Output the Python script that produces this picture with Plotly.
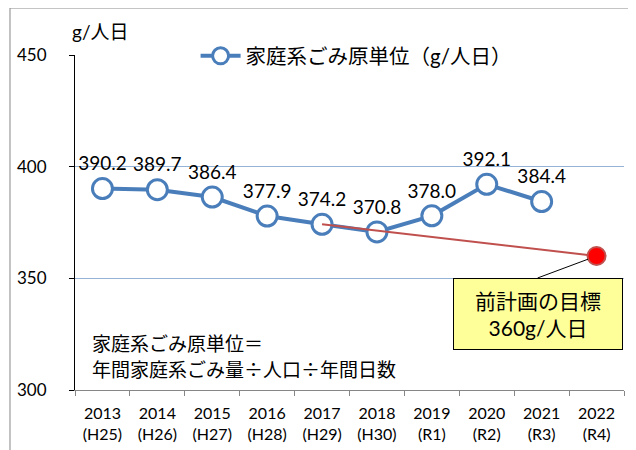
import plotly.graph_objects as go

years = ["2013", "2014", "2015", "2016", "2017", "2018", "2019", "2020", "2021", "2022"]
eras = ["H25", "H26", "H27", "H28", "H29", "H30", "R1", "R2", "R3", "R4"]
values = [390.2, 389.7, 386.4, 377.9, 374.2, 370.8, 378.0, 392.1, 384.4, None]
target_years = ["2017", "2022"]
target_values = [374.2, 360.0]
series_name = "家庭系ごみ原単位（g/人日）"
era_labels = [f"({e})" for e in eras]

FONT = "Lato, Noto Sans CJK JP, sans-serif"
CJK = "Noto Sans CJK JP, sans-serif"
BLUE = "#4A7EBB"

fig = go.Figure()

fig.add_trace(go.Scatter(
    x=years, y=values, mode="lines+markers+text", name=series_name,
    line=dict(color=BLUE, width=4),
    marker=dict(symbol="circle", size=20, color="white", line=dict(color=BLUE, width=3)),
    texttemplate="%{y:.1f}", textposition="top center",
    textfont=dict(size=19, color="black", family=FONT),
))

# target line (previous plan), drawn on top
fig.add_trace(go.Scatter(
    x=target_years, y=target_values, mode="lines",
    line=dict(color="#C0504D", width=2), showlegend=False, hoverinfo="skip",
))

# target point
fig.add_trace(go.Scatter(
    x=target_years[-1:], y=target_values[-1:], mode="markers",
    marker=dict(symbol="circle", size=18, color="#FF0000", line=dict(color="#C0504D", width=2)),
    showlegend=False, hoverinfo="skip",
))

# invisible trace carrying the era label axis
fig.add_trace(go.Scatter(
    x=list(range(len(eras))), y=[None] * len(eras), xaxis="x2", mode="markers",
    showlegend=False, hoverinfo="skip",
))

target_idx = years.index(target_years[-1])

fig.update_layout(
    width=628, height=442,
    margin=dict(l=67, r=12, t=47, b=60, autoexpand=False),
    paper_bgcolor="white", plot_bgcolor="white",
    font=dict(family=FONT, color="black", size=16),
    showlegend=True,
    legend=dict(
        x=0.512, y=0.997, xanchor="center", yanchor="middle",
        bgcolor="white", font=dict(size=20.5, family=FONT),
        itemwidth=40,
    ),
    xaxis=dict(
        type="category", categoryorder="array", categoryarray=years,
        tickmode="array", tickvals=years, ticktext=years,
        tickson="boundaries", ticks="outside", ticklen=5, tickcolor="#868686",
        showline=True, linecolor="#868686", linewidth=1,
        showgrid=False, tickfont=dict(size=16), range=[-0.5, 9.5],
        ticklabelstandoff=9, automargin=False,
    ),
    xaxis2=dict(
        overlaying="x", anchor="y", side="bottom",
        range=[-0.5, 9.5], tickmode="array",
        tickvals=list(range(len(eras))), ticktext=era_labels,
        showline=False, showgrid=False, zeroline=False, ticks="",
        tickfont=dict(size=16), ticklabelstandoff=33, automargin=False,
    ),
    yaxis=dict(
        range=[300, 450], tickvals=[300, 350, 400, 450],
        ticks="outside", ticklen=5, tickcolor="black",
        showline=True, linecolor="black", linewidth=1,
        showgrid=True, gridcolor="#95B3D7", gridwidth=1,
        zeroline=False, tickfont=dict(size=17),
        ticklabelstandoff=19, automargin=False,
    ),
    shapes=[
        dict(type="rect", xref="paper", yref="paper",
             x0=-0.1184, x1=1.06, y0=-0.25, y1=1.1403,
             line=dict(color="#868686", width=1), fillcolor="rgba(0,0,0,0)", layer="below"),
    ],
    annotations=[
        dict(text="g/人日", xref="paper", yref="paper", x=-0.009, y=1.0716,
             xanchor="left", yanchor="middle", showarrow=False, font=dict(size=19)),
        dict(text="家庭系ごみ原単位＝",
             xref="paper", yref="paper", x=0.027, y=0.1403,
             xanchor="left", yanchor="middle", align="left", showarrow=False,
             font=dict(size=19, family=CJK)),
        dict(text="年間家庭系ごみ量÷人口÷年間日数",
             xref="paper", yref="paper", x=0.027, y=0.0627,
             xanchor="left", yanchor="middle", align="left", showarrow=False,
             font=dict(size=19, family=CJK)),
        dict(text="前計画の目標<br>360g/人日", x=target_idx, y=target_values[-1],
             xref="x", yref="y", showarrow=True, arrowhead=0, arrowwidth=1,
             arrowcolor="black", ax=-59, ay=22, standoff=9,
             xanchor="center", yanchor="top",
             bgcolor="#FFFF99", bordercolor="black", borderwidth=1,
             width=166, height=68, font=dict(size=21), align="center"),
    ],
)

fig.write_html("out.html")
